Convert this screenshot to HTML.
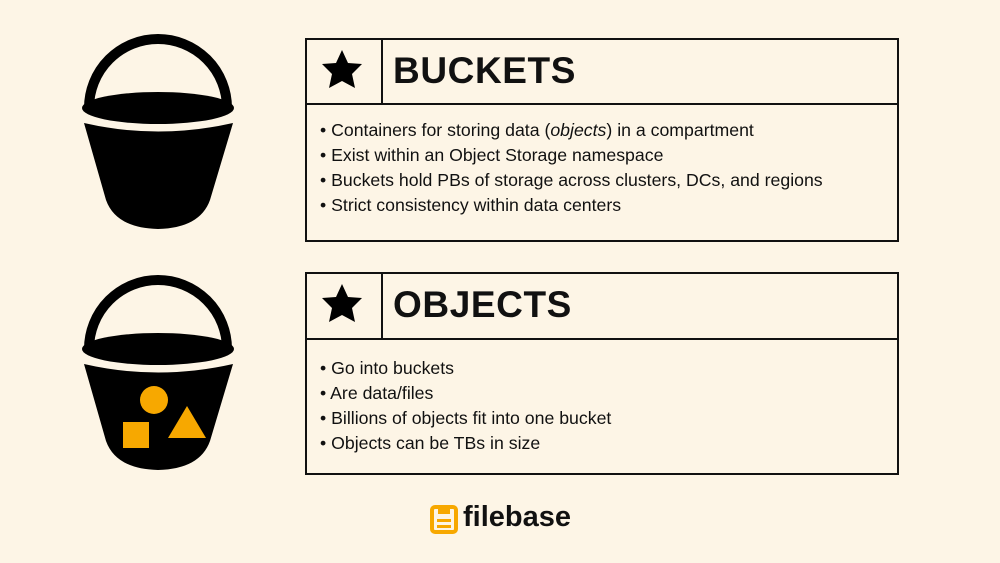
<!DOCTYPE html>
<html><head><style>
body{margin:0;width:1000px;height:563px;background:#fdf5e6;position:relative;overflow:hidden;font-family:"Liberation Sans",sans-serif;color:#111}
.box{position:absolute;left:305px;width:594px;border:2.5px solid #111;box-sizing:border-box}
.hdr{position:absolute;left:0;right:0;top:0;border-bottom:2.5px solid #111}
.div{position:absolute;left:74px;top:0;bottom:0;border-left:2.5px solid #111}
.title{position:absolute;left:86px;font-weight:bold;font-size:37px;letter-spacing:0.6px}
.list{position:absolute;left:13px;font-size:17.7px;line-height:25px}
svg{position:absolute;left:0;top:0}
</style></head><body>
<svg width="1000" height="563">
<g id="b">
<path d="M89 108 A69 69 0 0 1 227 108" fill="none" stroke="#000" stroke-width="10"/>
<ellipse cx="158" cy="108" rx="76" ry="16" fill="#000"/>
<path d="M84 123 Q158 140 233 123 L210 200 Q200 228 158 229 Q116 228 106 200 Z" fill="#000"/>
</g>
<use href="#b" y="241"/>
<circle cx="154" cy="400" r="14" fill="#f7a800"/>
<rect x="123" y="422" width="26" height="26" fill="#f7a800"/>
<polygon points="187,406 206,438 168,438" fill="#f7a800"/>
<g fill="#000"><polygon points="342,50 348,63 362,64 352,74 355,88 342,81 329,88 332,74 322,64 336,63"/>
<polygon points="342,284 348,297 362,298 352,308 355,322 342,315 329,322 332,308 322,298 336,297"/></g>
<g transform="translate(430,505)"><rect x="2" y="2" width="24" height="25" rx="3" fill="none" stroke="#f7a800" stroke-width="4"/><rect x="8" y="2" width="12" height="7" fill="#f7a800"/><rect x="7" y="14" width="14" height="3" fill="#f7a800"/><rect x="7" y="20" width="14" height="3" fill="#f7a800"/></g>
</svg>
<div style="position:absolute;left:463px;top:501px;font-size:29px;font-weight:bold;color:#111">filebase</div>
<div class="box" style="top:38px;height:204px">
<div class="hdr" style="height:63px"><div class="div"></div><div class="title" style="top:10px">BUCKETS</div></div>
<div class="list" style="top:78px">• Containers for storing data (<i>objects</i>) in a compartment<br>• Exist within an Object Storage namespace<br>• Buckets hold PBs of storage across clusters, DCs, and regions<br>• Strict consistency within data centers</div>
</div>
<div class="box" style="top:272px;height:203px">
<div class="hdr" style="height:64px"><div class="div"></div><div class="title" style="top:10px">OBJECTS</div></div>
<div class="list" style="top:82px">• Go into buckets<br>• Are data/files<br>• Billions of objects fit into one bucket<br>• Objects can be TBs in size</div>
</div>
</body></html>
